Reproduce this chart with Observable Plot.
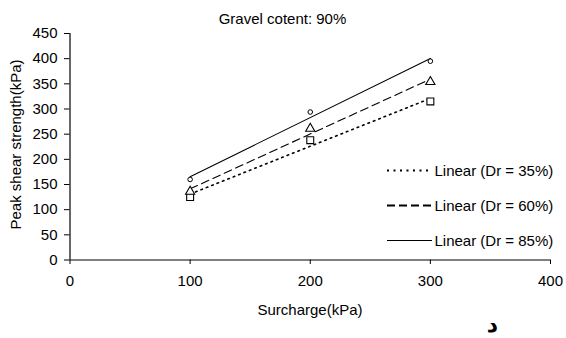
<!DOCTYPE html>
<html>
<head>
<meta charset="utf-8">
<script src="https://cdn.jsdelivr.net/npm/d3@7"></script>
<script src="https://cdn.jsdelivr.net/npm/@observablehq/plot@0.6"></script>
<style>
  body { margin: 0; background: #fff; }
  svg { font-family: "Liberation Sans", Arial, sans-serif; }
</style>
</head>
<body>
<div id="chart"></div>
<script>
// Peak shear strength versus surcharge, gravel content 90%
const surcharge = [100, 200, 300];
const strengthDr35 = [125, 238, 315];
const strengthDr60 = [136, 261, 354];
const strengthDr85 = [160, 294, 395];
const seriesLabels = ["Linear (Dr = 35%)", "Linear (Dr = 60%)", "Linear (Dr = 85%)"];
const xTicks = [0, 100, 200, 300, 400];
const yTicks = [0, 50, 100, 150, 200, 250, 300, 350, 400, 450];

const title = "Gravel cotent: 90%";
const xLabel = "Surcharge(kPa)";
const yLabel = "Peak shear strength(kPa)";
const panelMark = "د";

const toRows = (values) => surcharge.map((x, i) => ({x, y: values[i]}));
const rows35 = toRows(strengthDr35);
const rows60 = toRows(strengthDr60);
const rows85 = toRows(strengthDr85);

// trend line styles in the plot area
const lineStyles = [
  {strokeWidth: 1.6, strokeDasharray: "1.6,4.2"},
  {strokeWidth: 1.1, strokeDasharray: "8,4.5"},
  {strokeWidth: 1.1, strokeDasharray: null}
];
// matching samples drawn in the legend
const legendStyles = [
  {width: 2, dash: "2,4.5"},
  {width: 2, dash: "8,4"},
  {width: 1.1, dash: null}
];

const chart = Plot.plot({
  width: 566,
  height: 338,
  marginLeft: 69.5,
  marginRight: 16,
  marginTop: 33,
  marginBottom: 78.5,
  style: {fontFamily: '"Liberation Sans", Arial, sans-serif', fontSize: "15px", color: "#000", background: "#fff"},
  x: {domain: [0, 400]},
  y: {domain: [0, 450]},
  marks: [
    Plot.axisX({ticks: xTicks, tickSize: 4.5, tickPadding: 11, label: null, stroke: "#000"}),
    Plot.axisY({ticks: yTicks, tickSize: 5.5, tickPadding: 7, label: null, stroke: "#000"}),
    Plot.ruleY([0], {stroke: "#000", strokeWidth: 1.2}),
    Plot.ruleX([0], {stroke: "#000", strokeWidth: 1.2}),
    Plot.linearRegressionY(rows35, {x: "x", y: "y", ci: 0, stroke: "#000", ...lineStyles[0]}),
    Plot.linearRegressionY(rows60, {x: "x", y: "y", ci: 0, stroke: "#000", ...lineStyles[1]}),
    Plot.linearRegressionY(rows85, {x: "x", y: "y", ci: 0, stroke: "#000", ...lineStyles[2]}),
    Plot.dot(rows35, {x: "x", y: "y", symbol: "square", r: 3.9, stroke: "#000", strokeWidth: 1.1, fill: "#fff"}),
    Plot.dot(rows60, {x: "x", y: "y", symbol: "triangle", r: 3.4, stroke: "#000", strokeWidth: 1.1, fill: "#fff"}),
    Plot.dot(rows85, {x: "x", y: "y", symbol: "circle", r: 2.3, stroke: "#000", strokeWidth: 1, fill: "#fff"})
  ]
});

const svg = d3.select(chart);

svg.append("text")
  .attr("x", 282.5).attr("y", 24)
  .attr("text-anchor", "middle")
  .attr("font-size", 15)
  .text(title);

svg.append("text")
  .attr("x", 310).attr("y", 314.5)
  .attr("text-anchor", "middle")
  .attr("font-size", 15)
  .text(xLabel);

svg.append("text")
  .attr("transform", "translate(21,144.5) rotate(-90)")
  .attr("text-anchor", "middle")
  .attr("font-size", 15)
  .text(yLabel);

// legend: line sample followed by its label
const legend = svg.append("g");
const legendY = [170.5, 205.5, 240.5];
seriesLabels.forEach((label, i) => {
  const s = legendStyles[i];
  legend.append("line")
    .attr("x1", 387).attr("x2", 432)
    .attr("y1", legendY[i]).attr("y2", legendY[i])
    .attr("stroke", "#000")
    .attr("stroke-width", s.width)
    .attr("stroke-dasharray", s.dash);
  legend.append("text")
    .attr("x", 434.5).attr("y", legendY[i])
    .attr("dy", "0.35em")
    .attr("text-anchor", "start")
    .attr("font-size", 15)
    .text(label);
});

svg.append("text")
  .attr("x", 492.5).attr("y", 332)
  .attr("text-anchor", "middle")
  .attr("font-family", '"DejaVu Sans", sans-serif')
  .attr("font-weight", "bold")
  .attr("font-size", 22)
  .text(panelMark);

document.getElementById("chart").appendChild(chart);
</script>
</body>
</html>
